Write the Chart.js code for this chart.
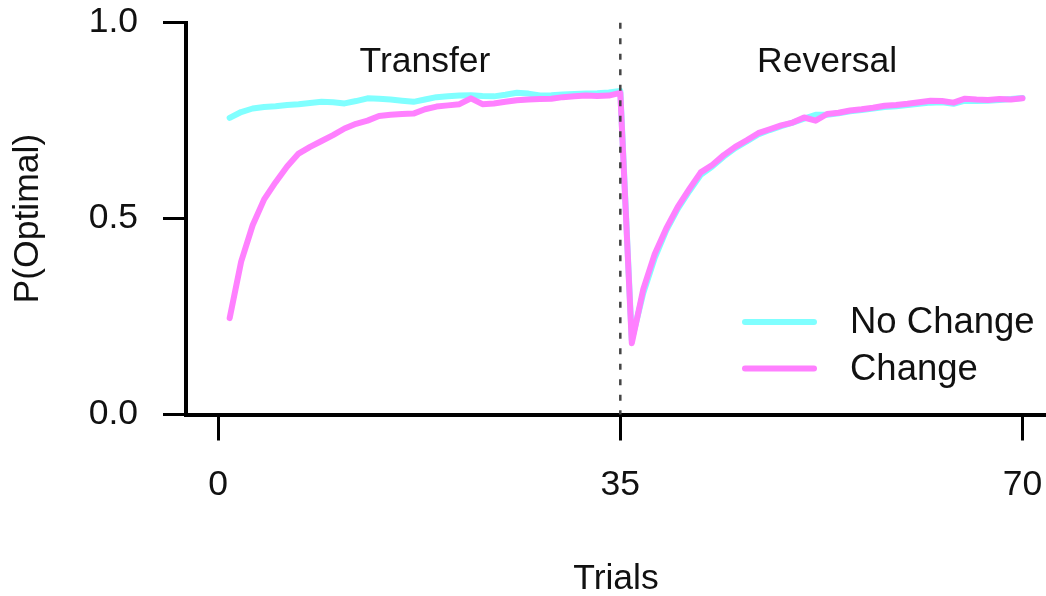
<!DOCTYPE html>
<html>
<head>
<meta charset="utf-8">
<script src="https://cdn.jsdelivr.net/npm/chart.js@4.4.1/dist/chart.umd.min.js"></script>
<style>
  html, body { margin: 0; padding: 0; background: #fff; }
  #wrap { width: 1046px; height: 596px; position: relative; }
</style>
</head>
<body>
<div id="wrap"><canvas id="chart"></canvas></div>
<script>
  'use strict';

  // trial index, 1..35 transfer, 36..70 reversal
  var trials = [
    1, 2, 3, 4, 5, 6, 7, 8, 9, 10, 11, 12, 13, 14, 15, 16, 17, 18, 19, 20,
    21, 22, 23, 24, 25, 26, 27, 28, 29, 30, 31, 32, 33, 34, 35,
    36, 37, 38, 39, 40, 41, 42, 43, 44, 45, 46, 47, 48, 49, 50,
    51, 52, 53, 54, 55, 56, 57, 58, 59, 60, 61, 62, 63, 64, 65, 66, 67, 68, 69, 70
  ];

  var noChange = [
    0.757, 0.772, 0.781, 0.785, 0.787, 0.790, 0.792, 0.795, 0.798, 0.797,
    0.794, 0.800, 0.807, 0.806, 0.804, 0.801, 0.798, 0.804, 0.810, 0.812,
    0.814, 0.815, 0.813, 0.812, 0.816, 0.821, 0.819, 0.814, 0.815, 0.817,
    0.818, 0.819, 0.820, 0.822, 0.826,
    0.190, 0.310, 0.400, 0.470, 0.525, 0.570, 0.612, 0.633, 0.658, 0.680,
    0.697, 0.715, 0.726, 0.736, 0.745, 0.755, 0.765, 0.765, 0.769, 0.774,
    0.777, 0.781, 0.785, 0.787, 0.790, 0.793, 0.796, 0.797, 0.793, 0.801,
    0.800, 0.801, 0.803, 0.805, 0.808
  ];

  var change = [
    0.246, 0.390, 0.483, 0.549, 0.593, 0.633, 0.666, 0.683, 0.698, 0.713,
    0.730, 0.742, 0.750, 0.762, 0.765, 0.767, 0.768, 0.779, 0.786, 0.789,
    0.792, 0.807, 0.792, 0.794, 0.798, 0.802, 0.804, 0.805, 0.806, 0.810,
    0.812, 0.814, 0.813, 0.814, 0.821,
    0.182, 0.320, 0.410, 0.475, 0.530, 0.575, 0.618, 0.637, 0.662, 0.683,
    0.700, 0.718, 0.728, 0.738, 0.745, 0.758, 0.750, 0.767, 0.770, 0.776,
    0.779, 0.783, 0.788, 0.790, 0.793, 0.797, 0.801, 0.800, 0.796, 0.806,
    0.804, 0.803, 0.805, 0.804, 0.807
  ];

  var seriesNames = ['No Change', 'Change'];
  var seriesColors = ['#80ffff', '#ff80ff'];

  var xTicks = [0, 35, 70];
  var yTicks = [0, 0.5, 1];

  var switchTrial = 35;
  var phaseLabels = ['Transfer', 'Reversal'];
  var phaseLabelX = [18, 53];
  var phaseLabelY = 0.9;

  var FONT = '"Liberation Sans", Arial, Helvetica, sans-serif';
  var FS = 35.5;
  var INK = '#111';

  function points(ys) {
    return trials.map(function (t, i) {
      return { x: t, y: ys[i] };
    });
  }

  var decorations = {
    id: 'decorations',
    afterDatasetsDraw: function (chart) {
      var ctx = chart.ctx;
      var xs = chart.scales.x;
      var ys = chart.scales.y;
      var i;

      // switch marker
      ctx.save();
      ctx.strokeStyle = '#444';
      ctx.lineWidth = 2.5;
      ctx.setLineDash([6, 9.5]);
      ctx.beginPath();
      ctx.moveTo(xs.getPixelForValue(switchTrial), ys.getPixelForValue(1));
      ctx.lineTo(xs.getPixelForValue(switchTrial), ys.getPixelForValue(0));
      ctx.stroke();
      ctx.restore();

      // phase names
      ctx.save();
      ctx.fillStyle = INK;
      ctx.font = FS + 'px ' + FONT;
      ctx.textAlign = 'center';
      ctx.textBaseline = 'middle';
      for (i = 0; i < phaseLabels.length; i++) {
        ctx.fillText(phaseLabels[i], xs.getPixelForValue(phaseLabelX[i]), ys.getPixelForValue(phaseLabelY));
      }
      ctx.restore();

      // legend, bottom right of plot
      ctx.save();
      ctx.font = '36.5px ' + FONT;
      ctx.textAlign = 'left';
      ctx.textBaseline = 'middle';
      ctx.lineCap = 'round';
      ctx.lineWidth = 6;
      for (i = 0; i < chart.data.datasets.length; i++) {
        var ds = chart.data.datasets[i];
        var ly = 322 + i * 46.5;
        ctx.strokeStyle = ds.borderColor;
        ctx.beginPath();
        ctx.moveTo(745, ly);
        ctx.lineTo(814, ly);
        ctx.stroke();
        ctx.fillStyle = INK;
        ctx.fillText(ds.label, 850, ly + 1);
      }
      ctx.restore();
    }
  };

  new Chart(document.getElementById('chart').getContext('2d'), {
    type: 'line',
    data: {
      datasets: [
        {
          label: seriesNames[0],
          data: points(noChange),
          borderColor: seriesColors[0],
          borderWidth: 6,
          pointRadius: 0,
          tension: 0,
          order: 1,
          borderJoinStyle: 'round',
          borderCapStyle: 'round'
        },
        {
          label: seriesNames[1],
          data: points(change),
          borderColor: seriesColors[1],
          borderWidth: 6,
          pointRadius: 0,
          tension: 0,
          order: 0,
          borderJoinStyle: 'round',
          borderCapStyle: 'round'
        }
      ]
    },
    options: {
      responsive: true,
      maintainAspectRatio: false,
      animation: false,
      events: [],
      layout: { padding: { top: 22.7, right: 0, bottom: 0, left: 0 } },
      plugins: {
        legend: { display: false },
        tooltip: { enabled: false }
      },
      scales: {
        x: {
          type: 'linear',
          min: -2.8,
          max: 72.05,
          afterBuildTicks: function (scale) {
            scale.ticks = xTicks.map(function (v) { return { value: v }; });
          },
          afterFit: function (scale) {
            scale.height = 181.5;
            scale.paddingLeft = 0;
            scale.paddingRight = 0;
          },
          grid: {
            drawOnChartArea: false,
            drawTicks: true,
            tickLength: 26,
            tickWidth: 3,
            tickColor: '#000'
          },
          border: { display: true, color: '#000', width: 4 },
          ticks: {
            padding: 23,
            color: INK,
            font: { family: FONT, size: FS },
            maxRotation: 0,
            callback: function (v) { return String(v); }
          },
          title: {
            display: true,
            text: 'Trials',
            color: INK,
            font: { family: FONT, size: FS },
            padding: { top: 0, bottom: -4.4 }
          }
        },
        y: {
          min: 0,
          max: 1,
          afterBuildTicks: function (scale) {
            scale.ticks = yTicks.map(function (v) { return { value: v }; });
          },
          afterFit: function (scale) {
            scale.width = 186;
            scale.paddingTop = 0;
            scale.paddingBottom = 0;
          },
          grid: {
            drawOnChartArea: false,
            drawTicks: true,
            tickLength: 23,
            tickWidth: 3,
            tickColor: '#000'
          },
          border: { display: true, color: '#000', width: 4 },
          ticks: {
            padding: 25,
            color: INK,
            font: { family: FONT, size: FS },
            callback: function (v) { return Number(v).toFixed(1); }
          },
          title: {
            display: true,
            text: 'P(Optimal)',
            color: INK,
            font: { family: FONT, size: FS },
            padding: { top: 6.6, bottom: 0 }
          }
        }
      }
    },
    plugins: [decorations]
  });
</script>
</body>
</html>
